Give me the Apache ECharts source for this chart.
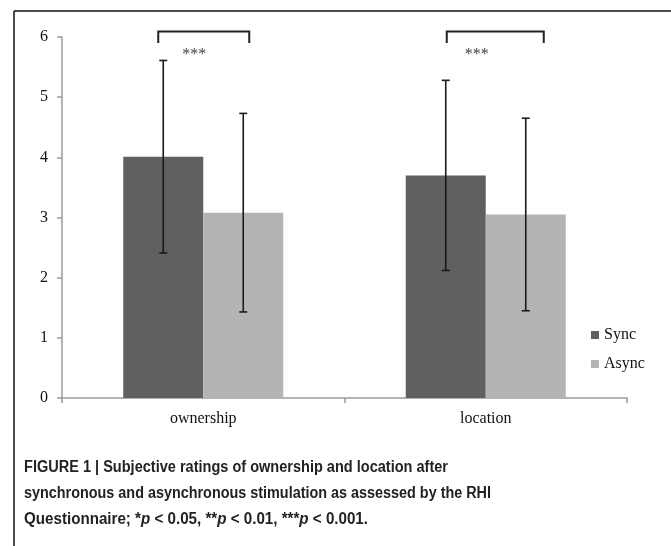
<!DOCTYPE html>
<html>
<head>
<meta charset="utf-8">
<script src="https://cdn.jsdelivr.net/npm/echarts@6/dist/echarts.min.js"></script>
<style>
html,body{margin:0;padding:0;background:#fff;}
#chart{width:671px;height:546px;}
</style>
</head>
<body>
<div id="chart"></div>
<script>
var categories = ['ownership', 'location'];
var seriesNames = ['Sync', 'Async'];
var syncMeans = [4.01, 3.70];
var asyncMeans = [3.08, 3.05];
var syncSD = [1.60, 1.58];
var asyncSD = [1.65, 1.60];
var significance = ['***', '***'];
var yTicks = [0, 1, 2, 3, 4, 5, 6];
var captionLines = [
  'FIGURE 1 | Subjective ratings of ownership and location after',
  'synchronous and asynchronous stimulation as assessed by the RHI',
  'Questionnaire; *p < 0.05, **p < 0.01, ***p < 0.001.'
];

var SERIF = '"Liberation Serif", "Times New Roman", serif';
var SANS = '"Liberation Sans", Arial, sans-serif';
var BAR_W = 80;

var chart = echarts.init(document.getElementById('chart'), null, {renderer: 'canvas'});

function errorRender(offsetSign) {
  return function (params, api) {
    var idx = api.value(0);
    var mean = api.value(1);
    var sd = api.value(2);
    var top = api.coord([idx, mean + sd]);
    var bot = api.coord([idx, mean - sd]);
    var x = top[0] + offsetSign * BAR_W / 2;
    var style = {stroke: '#1a1a1a', lineWidth: 1.6};
    return {
      type: 'group',
      children: [
        {type: 'line', shape: {x1: x, y1: top[1], x2: x, y2: bot[1]}, style: style},
        {type: 'line', shape: {x1: x - 4, y1: top[1], x2: x + 4, y2: top[1]}, style: style},
        {type: 'line', shape: {x1: x - 4, y1: bot[1], x2: x + 4, y2: bot[1]}, style: style}
      ]
    };
  };
}

var bracketOffsets = [[-45, 46], [-39, 58]];
function bracketRender(params, api) {
  var idx = api.value(0);
  var hi = api.coord([idx, 6.09]);
  var lo = api.coord([idx, 5.90]);
  var st = api.coord([idx, 5.70]);
  var off = bracketOffsets[params.dataIndex];
  var x1 = hi[0] + off[0], x2 = hi[0] + off[1];
  return {
    type: 'group',
    children: [
      {type: 'polyline', shape: {points: [[x1, lo[1]], [x1, hi[1]], [x2, hi[1]], [x2, lo[1]]]},
        style: {stroke: '#222', lineWidth: 2, fill: null}},
      {type: 'text', style: {x: hi[0] - 9, y: st[1], text: significance[params.dataIndex],
        font: '16px ' + SERIF, fill: '#444', align: 'center', verticalAlign: 'middle'}}
    ]
  };
}

// caption text scaled horizontally to match the condensed bold face
var captionTargets = [424, 467, 344];
var ctx = document.createElement('canvas').getContext('2d');
ctx.font = 'bold 16px ' + SANS;
var captionGraphics = captionLines.map(function (line, i) {
  var w = ctx.measureText(line).width;
  var sx = captionTargets[i] / w;
  var rich = line.replace(/p </g, '{i|p} <');
  return {
    type: 'text', x: 24, y: 468 + i * 26, scaleX: sx,
    style: {
      text: rich, font: 'bold 16px ' + SANS, fill: '#222', verticalAlign: 'middle',
      rich: {i: {fontStyle: 'italic', fontWeight: 'bold', fontSize: 16, fontFamily: SANS, fill: '#222'}}
    }
  };
});

var option = {
  animation: false,
  backgroundColor: '#fff',
  grid: {left: 62, right: 44, top: 37, bottom: 148, containLabel: false},
  legend: {
    orient: 'vertical', left: 586, top: 322,
    icon: 'rect', itemWidth: 8, itemHeight: 8, itemGap: 13,
    textStyle: {fontFamily: SERIF, fontSize: 16, color: '#111', lineHeight: 16},
    data: seriesNames
  },
  xAxis: {
    type: 'category', data: categories,
    axisLine: {lineStyle: {color: '#9a9a9a', width: 1.5}},
    axisTick: {show: true, length: 5, lineStyle: {color: '#9a9a9a', width: 1.5}},
    axisLabel: {fontFamily: SERIF, fontSize: 16, color: '#111', margin: 13}
  },
  yAxis: {
    type: 'value', min: 0, max: 6, interval: 1,
    axisLine: {show: true, lineStyle: {color: '#9a9a9a', width: 1.5}},
    axisTick: {show: true, length: 5, lineStyle: {color: '#9a9a9a', width: 1.5}},
    splitLine: {show: false},
    axisLabel: {fontFamily: SERIF, fontSize: 16, color: '#111', margin: 14,
      formatter: function (v) { return yTicks.indexOf(v) >= 0 ? String(v) : ''; }}
  },
  series: [
    {name: seriesNames[0], type: 'bar', data: syncMeans, barWidth: BAR_W, barGap: '0%',
      itemStyle: {color: '#606060'}},
    {name: seriesNames[1], type: 'bar', data: asyncMeans, barWidth: BAR_W,
      itemStyle: {color: '#b4b4b4'}},
    {type: 'custom', renderItem: errorRender(-1), z: 5,
      data: syncMeans.map(function (m, i) { return [i, m, syncSD[i]]; }),
      encode: {x: 0, y: 1}},
    {type: 'custom', renderItem: errorRender(1), z: 5,
      data: asyncMeans.map(function (m, i) { return [i, m, asyncSD[i]]; }),
      encode: {x: 0, y: 1}},
    {type: 'custom', renderItem: bracketRender, clip: false, z: 5,
      data: categories.map(function (c, i) { return [i, 6]; }),
      encode: {x: 0, y: 1}}
  ],
  graphic: [
    {type: 'line', shape: {x1: 14, y1: 11, x2: 671, y2: 11}, style: {stroke: '#111', lineWidth: 1.5}},
    {type: 'line', shape: {x1: 14, y1: 11, x2: 14, y2: 546}, style: {stroke: '#111', lineWidth: 1.5}}
  ].concat(captionGraphics)
};
chart.setOption(option);
</script>
</body>
</html>
